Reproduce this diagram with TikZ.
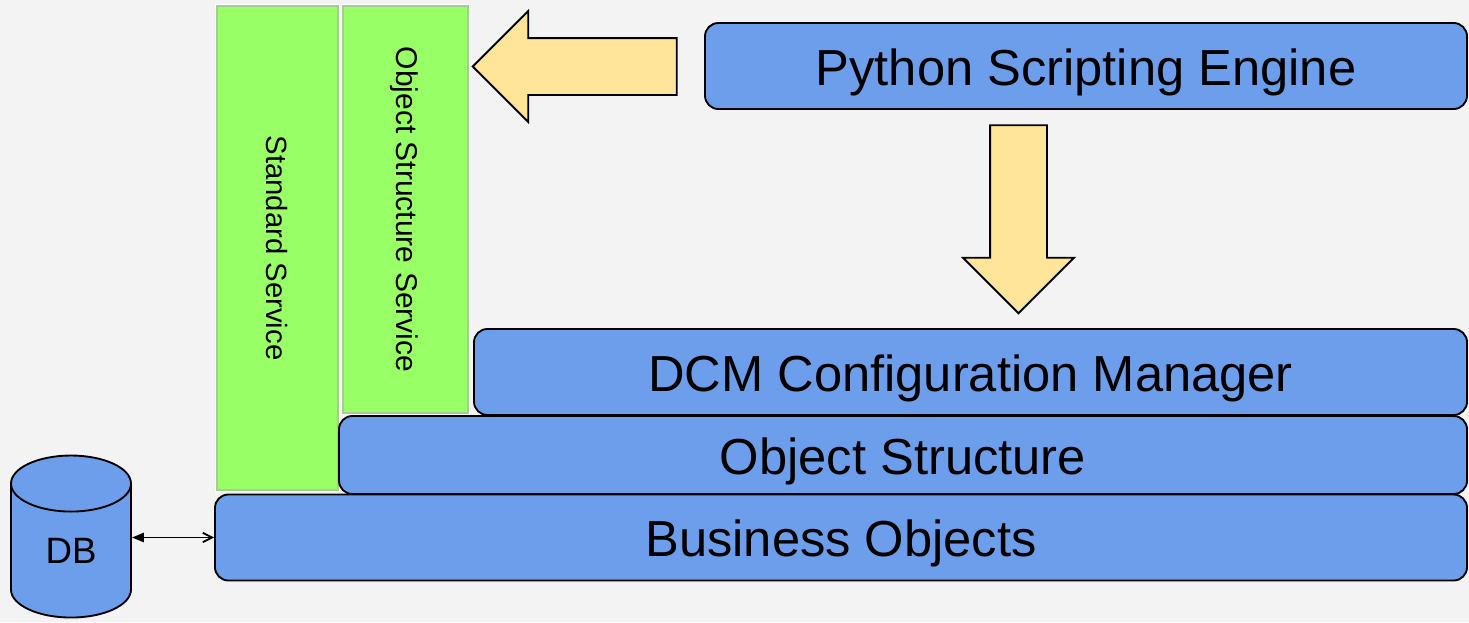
\documentclass[tikz,border=0pt]{standalone}
\usepackage{fontspec}
\setmainfont{Liberation Sans}
\usetikzlibrary{shapes.geometric}
\usetikzlibrary{shapes.arrows}
\usetikzlibrary{arrows.meta}
\definecolor{pagegray}{HTML}{F3F3F3}
\definecolor{layerblue}{HTML}{6D9EEB}
\definecolor{servicegreen}{HTML}{99FF66}
\definecolor{serviceedge}{HTML}{A6CC96}
\definecolor{flowyellow}{HTML}{FFE599}

\begin{document}
\begin{tikzpicture}[x=0.75pt,y=-0.75pt,
  layer/.style={rectangle,rounded corners=10pt,draw=black,line width=1.4pt,fill=layerblue,inner sep=0pt,minimum height=#1,text height=28.5pt,text depth=0pt,font=\fontsize{38}{38}\selectfont},
  service/.style={rectangle,rotate=-90,draw=serviceedge,line width=1.2pt,fill=servicegreen,inner sep=0pt,text depth=0pt,preaction={draw=white,line width=3pt},font=\fontsize{22}{22}\selectfont},
  flow/.style={single arrow,draw=black,line width=1.4pt,fill=flowyellow,inner sep=0pt,text height=41.25pt,minimum width=81.75pt,single arrow head extend=20.25pt,single arrow tip angle=90}]
\useasboundingbox [fill=pagegray] (0,0) rectangle (1469,622);

\node [service,text height=17pt,minimum width=363pt,minimum height=90.75pt] (standard) at (277.5,248) {Standard Service};
\node [service,text height=13.5pt,minimum width=305.25pt,minimum height=93.75pt,font=\fontsize{22.5}{22.5}\selectfont] (objservice) at (405.5,209.5) {Object Structure Service};

\node [layer=64.5pt,minimum width=571.5pt] (python) at (1086,66) {Python Scripting Engine};
\node [layer=64.5pt,minimum width=744.75pt] (dcm) at (970.5,372) {DCM Configuration Manager};
\node [layer=58.5pt,minimum width=846pt] (objstruct) at (903,455) {Object Structure};
\node [layer=64.5pt,minimum width=939pt] (business) at (841,537.5) {Business Objects};

\node [cylinder,shape border rotate=90,draw=black,line width=1.4pt,fill=layerblue,inner sep=0pt,minimum width=90pt,minimum height=121.5pt,aspect=1.1,font=\fontsize{27.5}{27.5}\selectfont] (db) at (71,551) {DB};

\node [flow,rotate=180,minimum height=153pt] (leftflow) at (589,66.5) {};
\node [flow,rotate=270,minimum height=141pt] (downflow) at (1018.5,205) {};

\draw [{Triangle[length=9pt,width=7pt]}-{Straight Barb[length=7pt,width=7pt]},line width=1.3pt] (db.after top |- business.west) -- (business.west);
\end{tikzpicture}
\end{document}
